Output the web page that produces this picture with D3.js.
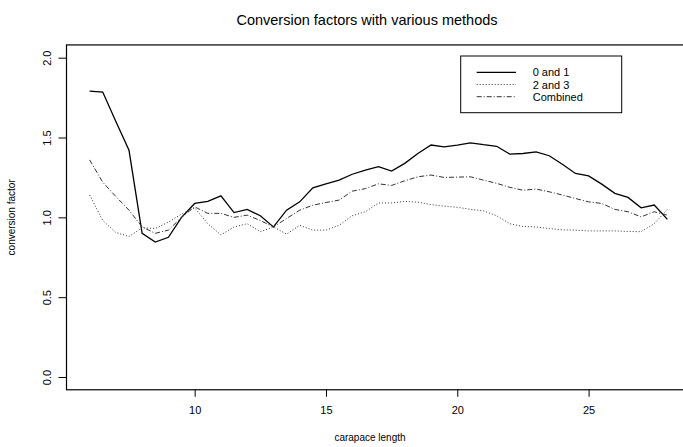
<!DOCTYPE html>
<html>
<head>
<meta charset="utf-8">
<script src="https://cdn.jsdelivr.net/npm/d3@7"></script>
<style>
  html, body { margin: 0; padding: 0; background: #fff; }
  svg { display: block; font-family: "Liberation Sans", Arial, sans-serif; }
</style>
</head>
<body>
<svg id="chart" width="683" height="447"></svg>
<script>
const lengths = d3.range(6, 28.01, 0.5);
const series01 = [1.79, 1.785, 1.60, 1.42, 0.90, 0.845, 0.875, 1.00, 1.087, 1.10, 1.135, 1.03, 1.05, 1.01, 0.94, 1.045, 1.097, 1.185, 1.21, 1.233, 1.27, 1.296, 1.317, 1.29, 1.338, 1.40, 1.453, 1.442, 1.453, 1.467, 1.455, 1.445, 1.396, 1.40, 1.41, 1.386, 1.333, 1.275, 1.26, 1.208, 1.15, 1.125, 1.06, 1.077, 0.987];
const series23 = [1.14, 0.98, 0.905, 0.88, 0.935, 0.93, 0.97, 1.02, 1.06, 0.96, 0.89, 0.94, 0.96, 0.91, 0.94, 0.895, 0.95, 0.92, 0.92, 0.95, 1.01, 1.035, 1.09, 1.09, 1.10, 1.095, 1.08, 1.07, 1.063, 1.05, 1.04, 1.01, 0.96, 0.943, 0.94, 0.93, 0.922, 0.92, 0.915, 0.915, 0.915, 0.912, 0.91, 0.96, 1.05];
const seriesComb = [1.36, 1.22, 1.13, 1.045, 0.94, 0.90, 0.92, 1.00, 1.066, 1.025, 1.025, 1.0, 1.014, 0.98, 0.94, 0.993, 1.045, 1.076, 1.093, 1.108, 1.164, 1.18, 1.21, 1.20, 1.229, 1.254, 1.265, 1.25, 1.252, 1.254, 1.233, 1.213, 1.188, 1.17, 1.177, 1.16, 1.14, 1.118, 1.097, 1.087, 1.05, 1.035, 1.003, 1.035, 1.014];
const xTicks = [10, 15, 20, 25];
const yTicks = [0.0, 0.5, 1.0, 1.5, 2.0];
const legendLabels = ["0 and 1", "2 and 3", "Combined"];

const svg = d3.select("#chart");
const x = d3.scaleLinear().domain([5.12, 28.88]).range([66.5, 690.5]);
const y = d3.scaleLinear().domain([0, 2]).range([377, 57.7]);
const x0 = x(5.12), x1 = x(28.88), yb = y(-0.08), yt = y(2.08);

// title
svg.append("text").attr("x", 367).attr("y", 25).attr("text-anchor", "middle")
  .attr("font-size", 14.5).attr("fill", "#000").text("Conversion factors with various methods");

// lines
const line = vals => d3.line().x((d, i) => x(lengths[i])).y(d => y(d))(vals);
const styles = [
  { vals: series01, dash: null, w: 1.3, c: "#000" },
  { vals: series23, dash: "1,2", w: 1, c: "#333" },
  { vals: seriesComb, dash: "5,2,1,2", w: 1, c: "#333" }
];
styles.forEach(s => {
  svg.append("path").attr("d", line(s.vals)).attr("fill", "none")
    .attr("stroke", s.c).attr("stroke-width", s.w)
    .attr("stroke-dasharray", s.dash);
});

// box
svg.append("rect").attr("x", x0).attr("y", yt).attr("width", x1 - x0).attr("height", yb - yt)
  .attr("fill", "none").attr("stroke", "#000").attr("stroke-width", 1.2);

// x axis
const xAxis = d3.axisBottom(x).tickValues(xTicks).tickSize(7).tickPadding(9).tickFormat(d3.format("d"));
const gx = svg.append("g").attr("transform", `translate(0,${yb})`).call(xAxis);
gx.select(".domain").remove();
gx.selectAll("text").attr("font-size", 11).attr("font-family", "Liberation Sans, Arial, sans-serif");

// y axis
const yAxis = d3.axisLeft(y).tickValues(yTicks).tickSize(8).tickFormat(d3.format(".1f"));
const gy = svg.append("g").attr("transform", `translate(${x0},0)`).call(yAxis);
gy.select(".domain").remove();
gy.selectAll("text").attr("font-size", 11).attr("font-family", "Liberation Sans, Arial, sans-serif")
  .attr("text-anchor", "middle").attr("x", 0).attr("dy", 0)
  .attr("transform", `translate(-20,0) rotate(-90) translate(0,4)`);

// axis labels
svg.append("text").attr("x", 370).attr("y", 441).attr("text-anchor", "middle")
  .attr("font-size", 10).text("carapace length");
svg.append("text").attr("transform", `translate(15,${y(1)}) rotate(-90)`).attr("text-anchor", "middle")
  .attr("font-size", 10).text("conversion factor");

// legend
const lg = svg.append("g");
lg.append("rect").attr("x", 460.7).attr("y", 56).attr("width", 161).attr("height", 56.7)
  .attr("fill", "#fff").attr("stroke", "#000").attr("stroke-width", 1);
legendLabels.forEach((lab, i) => {
  const yy = 72.3 + i * 12.2;
  lg.append("line").attr("x1", 476.7).attr("x2", 516).attr("y1", yy).attr("y2", yy)
    .attr("stroke", styles[i].c).attr("stroke-width", styles[i].w)
    .attr("stroke-dasharray", styles[i].dash);
  lg.append("text").attr("x", 532.7).attr("y", yy + 4).attr("font-size", 11).text(lab);
});
</script>
</body>
</html>
